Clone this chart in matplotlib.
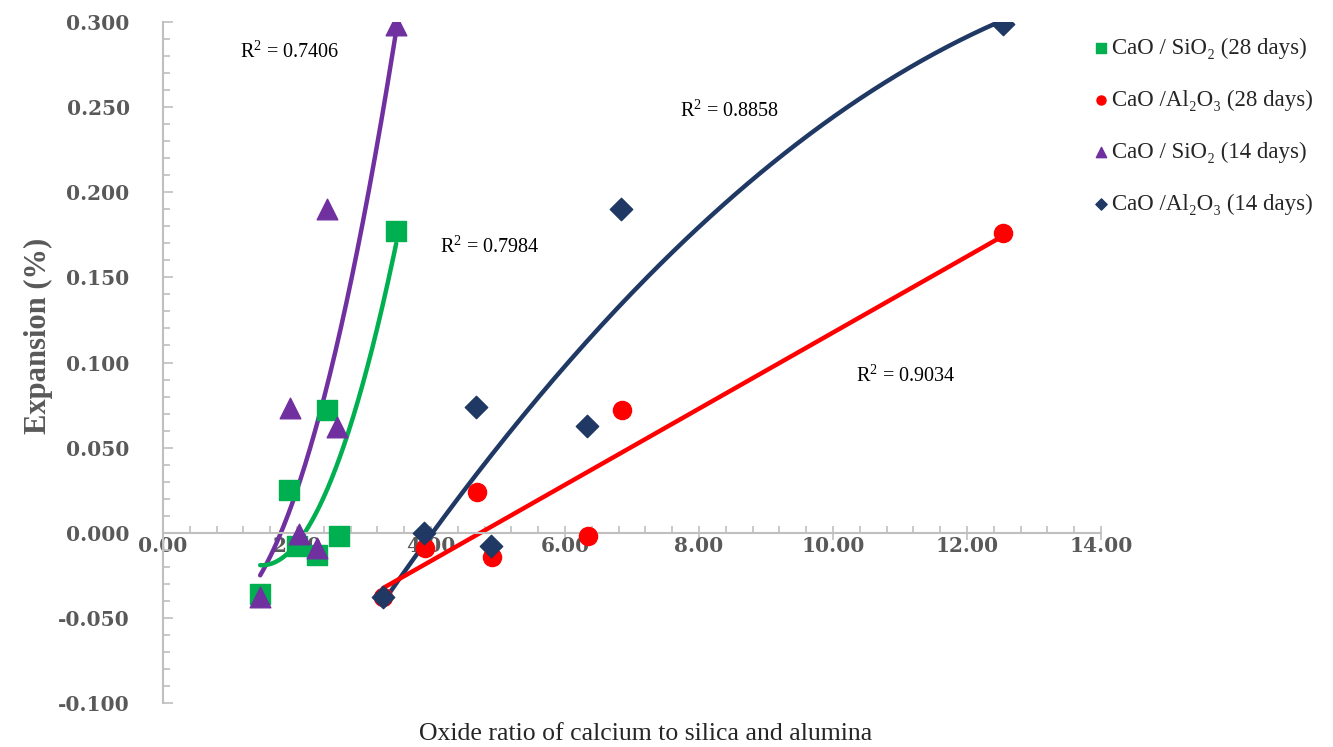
import numpy as np
import matplotlib
matplotlib.use("Agg")
import matplotlib.pyplot as plt
from matplotlib.ticker import MultipleLocator, FormatStrFormatter

# ---- data ----
x_si = [1.45, 1.88, 2.00, 2.30, 2.45, 2.63, 3.48]
y_si_28 = [-0.036, 0.025, -0.008, -0.013, 0.072, -0.002, 0.177]
x_si_14 = [1.45, 1.90, 2.03, 2.30, 2.45, 2.60, 3.48]
y_si_14 = [-0.038, 0.073, -0.001, -0.009, 0.190, 0.062, 0.298]

x_al = [3.28, 3.91, 4.69, 4.91, 6.34, 6.85, 12.54]
y_al_28 = [-0.038, -0.009, 0.024, -0.014, -0.002, 0.072, 0.176]
x_al_14 = [3.28, 3.90, 4.67, 4.90, 6.33, 6.84, 12.54]
y_al_14 = [-0.038, 0.000, 0.074, -0.008, 0.063, 0.190, 0.299]

labels = ["CaO / SiO\u2082 (28 days)", "CaO /Al\u2082O\u2083 (28 days)",
          "CaO / SiO\u2082 (14 days)", "CaO /Al\u2082O\u2083 (14 days)"]
r2_text = ["R$^2$ = 0.7406", "R$^2$ = 0.7984", "R$^2$ = 0.8858", "R$^2$ = 0.9034"]

GREEN = "#00B050"
RED = "#FF0000"
PURPLE = "#7030A0"
NAVY = "#1F3864"
GRAY = "#595959"
SERIF = ["Liberation Serif", "DejaVu Serif"]

plt.rcParams["font.family"] = SERIF
plt.rcParams["mathtext.fontset"] = "custom"
plt.rcParams["mathtext.rm"] = "Liberation Serif"

fig = plt.figure(figsize=(13.33, 7.47), dpi=100)
ax = fig.add_axes((0.1223, 0.0589, 0.7037, 0.9116))


def trend(x, y, deg):
    c = np.polyfit(x, y, deg)
    xs = np.linspace(min(x), max(x), 200)
    return xs, np.polyval(c, xs)


# trendlines
for x, y, deg, col in [(x_si_14, y_si_14, 2, PURPLE), (x_si, y_si_28, 2, GREEN),
                       (x_al_14, y_al_14, 2, NAVY), (x_al, y_al_28, 1, RED)]:
    xs, ys = trend(x, y, deg)
    ax.plot(xs, ys, color=col, lw=3.2, solid_capstyle="round", zorder=2)

# markers
ax.scatter(x_si, y_si_28, marker="s", s=200, color=GREEN, zorder=3, label=labels[0])
ax.scatter(x_al, y_al_28, marker="o", s=170, color=RED, zorder=3, label=labels[1])
ax.scatter(x_si_14, y_si_14, marker="^", s=220, color=PURPLE, zorder=4, label=labels[2])
ax.scatter(x_al_14, y_al_14, marker="D", s=130, color=NAVY, zorder=4, label=labels[3])

# R^2 labels
for (tx, ty), s in zip([(1.15, 0.2825), (4.13, 0.168), (7.72, 0.248), (10.34, 0.092)], r2_text):
    ax.text(tx, ty, s, fontsize=14.5, color="black", va="center")

# axes styling
ax.set_xlim(0, 14)
ax.set_ylim(-0.1, 0.3)
ax.spines["top"].set_visible(False)
ax.spines["right"].set_visible(False)
ax.spines["bottom"].set_position(("data", 0))
for s in ("left", "bottom"):
    ax.spines[s].set_color("#BFBFBF")
    ax.spines[s].set_linewidth(1.5)

ax.xaxis.set_major_locator(MultipleLocator(2))
ax.xaxis.set_minor_locator(MultipleLocator(0.4))
ax.yaxis.set_major_locator(MultipleLocator(0.05))
ax.yaxis.set_minor_locator(MultipleLocator(0.01))
ax.xaxis.set_major_formatter(FormatStrFormatter("%.2f"))
ax.yaxis.set_major_formatter(FormatStrFormatter("%.3f"))

ax.tick_params(axis="x", which="major", direction="inout", length=10, width=1.2,
               color="#BFBFBF", pad=-3, labelsize=14.5, labelcolor=GRAY)
ax.tick_params(axis="x", which="minor", direction="in", length=5, width=1.2, color="#BFBFBF")
ax.tick_params(axis="y", which="major", direction="in", length=7, width=1.2,
               color="#BFBFBF", pad=24, labelsize=14.5, labelcolor=GRAY)
ax.tick_params(axis="y", which="minor", direction="in", length=5, width=1.2, color="#BFBFBF")
for t in ax.get_xticklabels() + ax.get_yticklabels():
    t.set_fontweight("bold")
    t.set_family(["DejaVu Serif"])

fig.text(0.029, 0.55, "Expansion (%)", rotation=90, ha="center", va="center",
         fontsize=22, fontweight="bold", color=GRAY)
fig.text(0.484, 0.018, "Oxide ratio of calcium to silica and alumina", ha="center",
         va="center", fontsize=18.5, color="#262626")

leg = ax.legend(loc="upper left", bbox_to_anchor=(0.813, 0.962), bbox_transform=fig.transFigure,
                frameon=False, fontsize=16.5, markerscale=0.5, handletextpad=0.15,
                labelspacing=1.35, handlelength=0.7, borderaxespad=0)
for t in leg.get_texts():
    t.set_color("#262626")

fig.savefig("out.png", dpi=100)
